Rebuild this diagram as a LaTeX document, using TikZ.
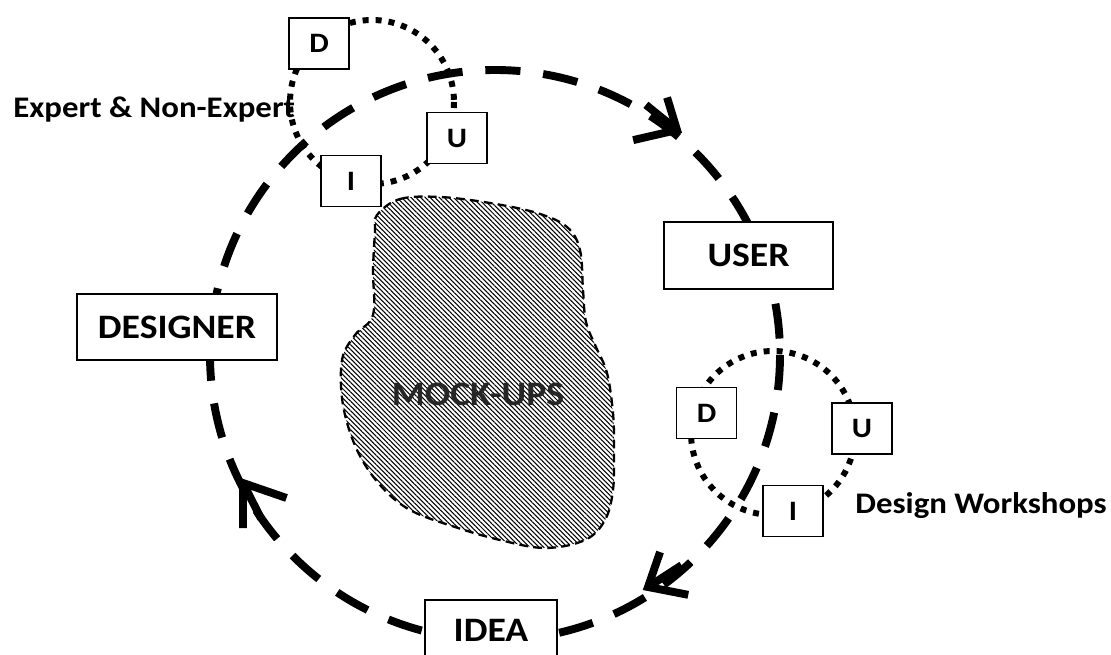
\documentclass[tikz,border=0pt]{standalone}
\usepackage{fontspec}
\setmainfont{Carlito}[FakeStretch=1.1]
\usetikzlibrary{patterns.meta}
\tikzset{
  bigloop/.style={line width=4.5pt, dash pattern=on 20pt off 13pt},
  looptip/.style={line width=4.5pt, line join=miter, line cap=butt},
  dotloop/.style={line width=3.4pt, dash pattern=on 3.4pt off 4pt},
  bigbox/.style={draw, line width=1.1pt, fill=white, inner sep=0pt,
     font=\bfseries\fontsize{19.5}{23}\selectfont},
  smallbox/.style={draw, line width=1.1pt, fill=white, inner sep=0pt,
     minimum width=1.2cm, minimum height=1.02cm,
     font=\bfseries\fontsize{16}{19}\selectfont},
  sidelabel/.style={font=\bfseries\fontsize{17}{20}\selectfont, inner sep=0pt},
  blob/.style={draw, line width=1.3pt, dash pattern=on 5pt off 3pt,
     pattern={Lines[angle=-45,distance=1.9pt,line width=0.6pt]}},
}
\begin{document}
\begin{tikzpicture}[x=0.02cm,y=-0.02cm]
\useasboundingbox (0,0) rectangle (1111,655);
% main loop
\coordinate (c) at (495,355);
\draw[bigloop] (c) circle[radius=285];
% arrowheads on the main loop (clockwise)
\coordinate (t1) at (677,130);
\coordinate (t2) at (648,587);
\coordinate (t3) at (243,483);
\draw[looptip] (t1) ++(253:34) -- (t1) -- ++(167:45);
\draw[looptip] (t1) -- ++(219:40);
\draw[looptip] (t2) ++(-71:37) -- (t2) -- ++(11:41);
\draw[looptip] (t2) -- ++(-33:40);
\draw[looptip] (t3) ++(90:45) -- (t3) -- ++(19:46);
\draw[looptip] (t3) -- ++(63:40);
% small dotted loops
\coordinate (c1) at (372,102);
\coordinate (c2) at (773,433);
\draw[dotloop] (c1) circle[radius=82];
\draw[dotloop] (c2) circle[radius=82];
% mock-ups blob
\draw[blob] plot[smooth cycle, tension=0.6] coordinates {
 (377,215) (400,199) (440,197) (490,203) (537,213) (567,227) (580,250)
 (583,290) (586,322) (596,347) (607,373) (613,413) (614,450) (613,490)
 (605,520) (585,540) (545,548) (500,540) (455,527) (410,510) (380,485)
 (357,450) (343,405) (342,360) (355,335) (373,315) (373,270) (375,232)};
\node[font=\bfseries\fontsize{19.5}{23}\selectfont, text=black!85] (mock) at (478,394) {MOCK-UPS};
% main boxes
\node[bigbox, minimum width=4cm, minimum height=1.32cm] (designer) at (177,327) {DESIGNER};
\node[bigbox, minimum width=3.38cm, minimum height=1.34cm] (user) at (748.5,255.5) {USER};
\node[bigbox, minimum width=2.64cm, minimum height=1.2cm] (idea) at (491,630) {IDEA};
% small boxes top-left
\node[smallbox] (d1) at (319,43.5) {D};
\node[smallbox] (u1) at (457,138) {U};
\node[smallbox] (i1) at (351,181) {I};
% small boxes bottom-right
\node[smallbox] (d2) at (706.5,413) {D};
\node[smallbox] (u2) at (862,428.5) {U};
\node[smallbox] (i2) at (793,511) {I};
% labels
\node[sidelabel, anchor=base west] (expert) at (13,118) {Expert \& Non-Expert};
\node[sidelabel, anchor=base west] (workshops) at (855,513) {Design Workshops};
\end{tikzpicture}
\end{document}
